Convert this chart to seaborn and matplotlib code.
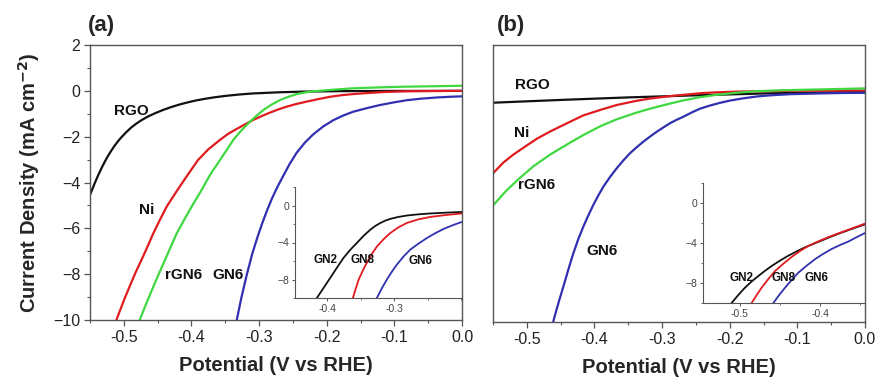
import numpy as np
import pandas as pd
import matplotlib
matplotlib.use("Agg")
import matplotlib.pyplot as plt
import seaborn as sns
from matplotlib.ticker import MultipleLocator, FormatStrFormatter

sns.set_style("ticks")
plt.rcParams['font.family'] = ['Liberation Sans', 'DejaVu Sans']

# ---------------- data: panel (a) main ----------------
a_rgo_x = [-0.55, -0.543, -0.538, -0.533, -0.528, -0.5234, -0.5185, -0.5135, -0.5086, -0.5037, -0.4963, -0.489, -0.4815, -0.4741, -0.4643, -0.4544, -0.4421, -0.4298, -0.4175, -0.4051, -0.3928, -0.3804, -0.3656, -0.3509, -0.33, -0.3086, -0.27, -0.2347, -0.18, -0.1, 0.0]
a_rgo_y = [-4.54, -4.03, -3.69, -3.375, -3.085, -2.84, -2.61, -2.39, -2.2, -2.03, -1.8, -1.6, -1.43, -1.285, -1.12, -0.985, -0.836, -0.707, -0.596, -0.5, -0.418, -0.349, -0.281, -0.225, -0.162, -0.113, -0.063, -0.035, -0.013, -0.005, 0.0]

a_ni_x = [-0.511, -0.5, -0.4909, -0.4825, -0.4736, -0.465, -0.4564, -0.4465, -0.4366, -0.423, -0.4096, -0.40, -0.3903, -0.375, -0.3578, -0.346, -0.333, -0.3207, -0.3086, -0.296, -0.2839, -0.2715, -0.2592, -0.2444, -0.2296, -0.2124, -0.1952, -0.178, -0.1607, -0.137, -0.1138, -0.08, -0.04, 0.0]
a_ni_y = [-10.0, -9.15, -8.5, -7.92, -7.36, -6.8, -6.22, -5.62, -5.05, -4.43, -3.84, -3.43, -3.02, -2.55, -2.14, -1.88, -1.66, -1.46, -1.27, -1.1, -0.95, -0.81, -0.69, -0.57, -0.47, -0.36, -0.26, -0.19, -0.14, -0.09, -0.05, -0.02, -0.01, 0.0]

a_rgn6_x = [-0.4765, -0.4664, -0.4564, -0.4478, -0.4391, -0.4305, -0.4218, -0.4108, -0.3997, -0.3874, -0.375, -0.3707, -0.3578, -0.346, -0.3381, -0.326, -0.3135, -0.3035, -0.2938, -0.2815, -0.2691, -0.2567, -0.2444, -0.232, -0.2198, -0.19, -0.1607, -0.124, -0.0868, -0.043, 0.0]
a_rgn6_y = [-10.0, -9.25, -8.55, -7.96, -7.38, -6.8, -6.22, -5.63, -5.05, -4.45, -3.8, -3.58, -3.02, -2.5, -2.14, -1.72, -1.35, -1.08, -0.84, -0.6, -0.4, -0.26, -0.14, -0.07, -0.02, 0.05, 0.11, 0.15, 0.18, 0.2, 0.22]

a_gn6_x = [-0.333, -0.326, -0.318, -0.31, -0.302, -0.295, -0.288, -0.281, -0.273, -0.265, -0.255, -0.2444, -0.232, -0.22, -0.205, -0.1902, -0.175, -0.1607, -0.14, -0.1213, -0.10, -0.0819, -0.06, -0.0375, -0.018, 0.0]
a_gn6_y = [-10.0, -9.0, -8.0, -7.1, -6.35, -5.75, -5.2, -4.7, -4.2, -3.75, -3.2, -2.7, -2.25, -1.9, -1.55, -1.28, -1.07, -0.91, -0.75, -0.62, -0.5, -0.41, -0.34, -0.29, -0.26, -0.24]

# ---------------- data: panel (a) inset ----------------
ai_gn2_x = [-0.4154, -0.403, -0.3905, -0.383, -0.3756, -0.366, -0.3557, -0.346, -0.3358, -0.328, -0.321, -0.3135, -0.306, -0.294, -0.281, -0.265, -0.246, -0.222, -0.199]
ai_gn2_y = [-10.0, -8.65, -7.28, -6.45, -5.66, -4.82, -4.04, -3.3, -2.62, -2.2, -1.9, -1.64, -1.45, -1.24, -1.08, -0.96, -0.86, -0.77, -0.7]
ai_gn8_x = [-0.3617, -0.3575, -0.353, -0.347, -0.341, -0.3335, -0.326, -0.316, -0.306, -0.294, -0.281, -0.264, -0.246, -0.222, -0.199]
ai_gn8_y = [-10.0, -9.0, -8.0, -7.05, -6.2, -5.25, -4.45, -3.65, -2.98, -2.37, -1.88, -1.5, -1.23, -1.02, -0.86]
ai_gn6_x = [-0.326, -0.3185, -0.311, -0.3035, -0.296, -0.286, -0.276, -0.2635, -0.251, -0.2385, -0.226, -0.2125, -0.199]
ai_gn6_y = [-10.0, -8.95, -8.0, -7.15, -6.38, -5.5, -4.76, -4.1, -3.5, -2.98, -2.52, -2.12, -1.77]

# ---------------- data: panel (b) main ----------------
b_rgo_x = [-0.55, -0.45, -0.35, -0.25, -0.15, -0.05, 0.0]
b_rgo_y = [-0.5, -0.38, -0.27, -0.18, -0.1, -0.05, -0.04]

b_ni_x = [-0.55, -0.535, -0.52, -0.50, -0.4845, -0.4657, -0.44, -0.4165, -0.39, -0.3671, -0.34, -0.3179, -0.29, -0.2687, -0.244, -0.22, -0.19, -0.15, -0.10, 0.0]
b_ni_y = [-3.56, -3.1, -2.75, -2.35, -2.05, -1.75, -1.38, -1.05, -0.8, -0.6, -0.43, -0.32, -0.22, -0.16, -0.09, -0.05, -0.02, 0.0, 0.02, 0.03]

b_rgn6_x = [-0.55, -0.53, -0.51, -0.49, -0.4657, -0.44, -0.4165, -0.39, -0.3671, -0.34, -0.3179, -0.29, -0.2687, -0.244, -0.22, -0.19, -0.16, -0.12, -0.06, 0.0]
b_rgn6_y = [-4.95, -4.3, -3.75, -3.25, -2.75, -2.3, -1.9, -1.5, -1.22, -0.95, -0.76, -0.55, -0.4, -0.26, -0.16, -0.07, 0.0, 0.04, 0.08, 0.12]

b_gn6_x = [-0.461, -0.4583, -0.452, -0.446, -0.4385, -0.4313, -0.424, -0.4165, -0.409, -0.4017, -0.3943, -0.3869, -0.377, -0.3671, -0.3573, -0.3475, -0.3376, -0.3278, -0.318, -0.308, -0.298, -0.2883, -0.2785, -0.2687, -0.256, -0.244, -0.23, -0.215, -0.2, -0.18, -0.16, -0.14, -0.11, -0.07, -0.035, 0.0]
b_gn6_y = [-10.0, -9.7, -9.05, -8.47, -7.72, -7.03, -6.42, -5.87, -5.38, -4.93, -4.52, -4.14, -3.72, -3.34, -3.0, -2.69, -2.43, -2.19, -1.97, -1.76, -1.57, -1.39, -1.24, -1.11, -0.92, -0.76, -0.63, -0.51, -0.41, -0.31, -0.23, -0.18, -0.13, -0.1, -0.08, -0.07]

# ---------------- data: panel (b) inset ----------------
bi_gn2_x = [-0.5104, -0.502, -0.4938, -0.4855, -0.477, -0.4685, -0.460, -0.45, -0.4396, -0.429, -0.4188, -0.408, -0.398, -0.3875, -0.377, -0.36, -0.344]
bi_gn2_y = [-10.0, -9.2, -8.48, -7.86, -7.3, -6.77, -6.28, -5.76, -5.27, -4.83, -4.43, -4.08, -3.75, -3.4, -3.07, -2.58, -2.13]
bi_gn8_x = [-0.4854, -0.479, -0.473, -0.4645, -0.456, -0.4455, -0.435, -0.425, -0.4146, -0.402, -0.3896, -0.377, -0.3646, -0.354, -0.344]
bi_gn8_y = [-10.0, -9.2, -8.48, -7.6, -6.79, -6.05, -5.37, -4.8, -4.29, -3.83, -3.41, -3.03, -2.67, -2.36, -2.06]
bi_gn6_x = [-0.4583, -0.451, -0.4438, -0.4355, -0.427, -0.4165, -0.406, -0.396, -0.3854, -0.375, -0.3646, -0.354, -0.344]
bi_gn6_y = [-10.0, -9.2, -8.48, -7.7, -6.96, -6.25, -5.6, -5.08, -4.59, -4.2, -3.85, -3.4, -3.0]

x_ticks = [-0.5, -0.4, -0.3, -0.2, -0.1, 0.0]
y_ticks = [-10, -8, -6, -4, -2, 0, 2]

C_BLACK = '#111111'
C_RED = '#e01b1f'
C_GREEN = '#40d840'
C_BLUE = '#3030b0'
SPINE = '#555555'

fig = plt.figure(figsize=(8.77, 3.77), dpi=100)
W, H = 877, 377

def fax(l, t, r, b):
    return [l / W, 1 - b / H, (r - l) / W, (b - t) / H]

ax_a = fig.add_axes(fax(90, 45, 462, 320))
ax_b = fig.add_axes(fax(493, 45, 865, 322))

def draw(ax, xs, ys, color, lw=1.6):
    df = pd.DataFrame({'x': xs, 'y': ys})
    sns.lineplot(data=df, x='x', y='y', ax=ax, color=color, lw=lw, sort=False, estimator=None)

def style_main(ax, ylabels=True):
    ax.set_xlim(-0.55, 0.0)
    ax.set_ylim(-10, 2)
    ax.set_xticks(x_ticks)
    ax.xaxis.set_major_formatter(FormatStrFormatter('%.1f'))
    ax.xaxis.set_minor_locator(MultipleLocator(0.05))
    if ylabels:
        ax.set_yticks(y_ticks)
        ax.yaxis.set_minor_locator(MultipleLocator(1))
    else:
        ax.set_yticks([])
    ax.tick_params(axis='both', which='major', direction='out', length=4, width=0.9,
                   color=SPINE, labelsize=11.5, labelcolor='#222222', pad=3)
    ax.tick_params(axis='both', which='minor', direction='out', length=2.5, width=0.8, color=SPINE)
    for s in ax.spines.values():
        s.set_color(SPINE)
        s.set_linewidth(1.0)
    ax.set_xlabel('Potential (V vs RHE)', fontsize=14.5, fontweight='bold', labelpad=8)
    ax.set_ylabel('')

def style_inset(ax, xlim, xt, xminor):
    ax.set_xlim(*xlim)
    ax.set_ylim(-10, 2)
    ax.set_xticks(xt)
    ax.xaxis.set_major_formatter(FormatStrFormatter('%.1f'))
    ax.xaxis.set_minor_locator(MultipleLocator(xminor))
    ax.set_yticks([-8, -4, 0])
    ax.yaxis.set_minor_locator(MultipleLocator(2))
    ax.tick_params(axis='both', which='major', direction='out', length=2.5, width=0.7,
                   color=SPINE, labelsize=7.5, labelcolor='#444444', pad=1.5)
    ax.tick_params(axis='both', which='minor', direction='out', length=1.5, width=0.6, color=SPINE)
    ax.spines['top'].set_visible(False)
    ax.spines['right'].set_visible(False)
    for s in ['left', 'bottom']:
        ax.spines[s].set_color(SPINE)
        ax.spines[s].set_linewidth(0.8)
    ax.set_facecolor('none')
    ax.set_xlabel('')
    ax.set_ylabel('')

# ---- panel a ----
draw(ax_a, a_rgo_x, a_rgo_y, C_BLACK)
draw(ax_a, a_ni_x, a_ni_y, C_RED)
draw(ax_a, a_rgn6_x, a_rgn6_y, C_GREEN)
draw(ax_a, a_gn6_x, a_gn6_y, C_BLUE)
style_main(ax_a, True)
ax_a.set_ylabel('Current Density (mA cm$^{\\mathbf{-2}}$)', fontsize=14.5, fontweight='bold', labelpad=8)
lab = dict(fontsize=11, fontweight='bold', color='#111111', ha='center', va='center')
ax_a.text(-0.489, -0.9, 'RGO', **lab)
ax_a.text(-0.466, -5.2, 'Ni', **lab)
ax_a.text(-0.412, -8.05, 'rGN6', **lab)
ax_a.text(-0.346, -8.05, 'GN6', **lab)

ins_a = fig.add_axes(fax(295, 187, 462, 298))
draw(ins_a, ai_gn2_x, ai_gn2_y, C_BLACK, 1.3)
draw(ins_a, ai_gn8_x, ai_gn8_y, C_RED, 1.3)
draw(ins_a, ai_gn6_x, ai_gn6_y, C_BLUE, 1.3)
style_inset(ins_a, (-0.448, -0.199), [-0.4, -0.3], 0.05)
ilab = dict(fontsize=8.5, fontweight='bold', color='#111111', ha='center', va='center')
ins_a.text(-0.403, -5.84, 'GN2', **ilab)
ins_a.text(-0.348, -5.84, 'GN8', **ilab)
ins_a.text(-0.261, -6.0, 'GN6', **ilab)

# ---- panel b ----
draw(ax_b, b_rgo_x, b_rgo_y, C_BLACK)
draw(ax_b, b_ni_x, b_ni_y, C_RED)
draw(ax_b, b_rgn6_x, b_rgn6_y, C_GREEN)
draw(ax_b, b_gn6_x, b_gn6_y, C_BLUE)
style_main(ax_b, False)
ax_b.text(-0.492, 0.27, 'RGO', **lab)
ax_b.text(-0.507, -1.81, 'Ni', **lab)
ax_b.text(-0.485, -4.07, 'rGN6', **lab)
ax_b.text(-0.389, -6.93, 'GN6', **lab)

ins_b = fig.add_axes(fax(703, 183, 865, 303))
draw(ins_b, bi_gn2_x, bi_gn2_y, C_BLACK, 1.3)
draw(ins_b, bi_gn8_x, bi_gn8_y, C_RED, 1.3)
draw(ins_b, bi_gn6_x, bi_gn6_y, C_BLUE, 1.3)
style_inset(ins_b, (-0.546, -0.344), [-0.5, -0.4], 0.05)
ins_b.text(-0.498, -7.53, 'GN2', **ilab)
ins_b.text(-0.446, -7.53, 'GN8', **ilab)
ins_b.text(-0.404, -7.53, 'GN6', **ilab)

fig.text(88 / W, 1 - 25 / H, '(a)', fontsize=16, fontweight='bold', ha='left', va='center')
fig.text(497 / W, 1 - 25 / H, '(b)', fontsize=16, fontweight='bold', ha='left', va='center')

fig.savefig('out.png', dpi=100)
